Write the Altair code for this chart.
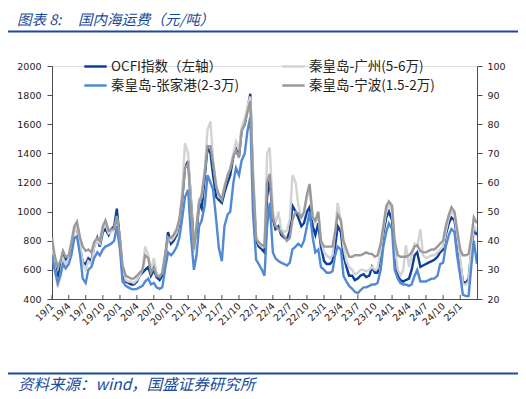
import altair as alt
import pandas as pd

# ---------------- data (semi-monthly readings, 2019-01-01 .. 2025-04-01) ----------------
DATE_START = "2019-01-01"
DATE_END = "2025-04-01"

# OCFI index (left axis)
ocfi = [
    780, 640, 550, 620, 720, 660, 690, 760, 880, 890, 760, 650, 640, 680, 660, 760, 820, 760, 860, 880, 840, 880, 900, 1020,
    800, 560, 520, 510, 500, 500, 520, 560, 580, 600, 620, 560, 600, 550, 530, 560, 700, 860, 780, 800, 840, 920, 1100, 1300,
    1350, 1100, 780, 850, 1060, 1020, 1250, 1440, 1400, 1250, 1100, 1080, 1060, 1130, 1200, 1250, 1380, 1440, 1380, 1560, 1600, 1700, 1810, 1200,
    800, 760, 740, 720, 1100, 1230, 950, 880, 900, 840, 820, 810, 870, 1040, 1000, 960, 900, 920, 1000, 1030, 900, 840, 920, 760,
    660, 640, 640, 660, 760, 900, 860, 700, 620, 560, 560, 530, 540, 560, 570, 550, 560, 620, 580, 580, 700, 850, 960, 1000,
    940, 700, 560, 530, 520, 530, 540, 600, 700, 720, 620, 630, 640, 650, 660, 670, 690, 720, 740, 840, 920, 960, 940, 820,
    650, 520, 510, 540, 720, 880, 840,
]

# Qinhuangdao - Guangzhou (5-6万), right axis
guangzhou = [
    40, 31, 24, 28, 34, 32, 34, 38, 43, 45, 39, 32, 30, 33, 32, 38, 40, 39, 44, 46, 42.5, 43, 44, 48,
    39, 30, 26.5, 26, 26, 25.5, 26.5, 28, 30, 38, 35, 30, 34, 29, 28, 29, 35, 41, 40, 41, 43, 47, 57.5, 73.5,
    70, 55, 36, 45, 54, 55, 65, 78, 81, 67.5, 59, 55, 55, 59, 62.5, 65, 70, 74, 71, 79, 82, 86, 89.5, 65,
    41.5, 39, 38, 38, 70, 72, 50, 46, 50, 44, 43, 43.5, 47.5, 62.5, 60, 52.5, 48, 49, 55, 57.5, 48, 46, 49, 40,
    36, 35, 34, 35, 43, 53, 47, 38, 33, 31, 30, 28.5, 29, 30, 30, 29.5, 30, 31, 30, 30.5, 37, 44, 50, 53,
    50, 38, 30, 28, 30, 38.5, 31, 35, 39, 38, 44, 35, 34, 34.5, 35, 35, 36, 37, 38, 43, 48, 50, 49, 42,
    34, 25, 25, 26, 38, 45, 43,
]

# Qinhuangdao - Zhangjiagang (2-3万), right axis
zhangjiagang = [
    35, 30, 25.5, 28, 32, 30.5, 32, 35, 41, 41.5, 35, 27, 25.5, 30, 31, 34, 36, 35, 37, 38, 38.5, 39, 40, 45,
    37, 26, 24.5, 24, 23.5, 23.3, 23.5, 24, 24.5, 26, 27, 25, 25.5, 24, 23.5, 24, 31, 36, 35, 36, 38, 41, 48, 55,
    57.5, 42.5, 30, 35, 45, 47, 52.5, 62.5, 60, 57.5, 47, 37.5, 33, 45, 49, 50, 60, 65, 62.5, 67.5, 70, 77.5, 82.5, 50,
    33.5, 32, 30, 28, 45, 53, 36, 34, 33, 32.5, 32, 31.5, 32.5, 37, 38, 39, 38, 40, 45, 50, 41, 36, 37, 31,
    30, 29, 29, 29.5, 35, 38, 37, 28, 26, 24.5, 23.5, 22.5, 22, 23, 24, 24, 24.5, 25, 25, 25.5, 30, 38, 43, 46,
    44, 30, 27, 25.5, 25, 25, 24.5, 25, 28, 30, 26, 26, 26, 26.5, 27, 27, 28, 32, 32.5, 38, 42, 44, 43, 35,
    28, 21.5, 21, 21, 31, 40, 32,
]

# Qinhuangdao - Ningbo (1.5-2万), right axis
ningbo = [
    41, 35, 31, 33, 36.5, 34.5, 35, 39.5, 45, 46.5, 41, 38, 36.5, 37, 36, 39.5, 41, 40, 45, 47, 43.5, 44, 44, 48.5,
    41, 31.5, 28, 27.5, 27, 27, 28, 29, 30, 35, 34, 29, 31, 28, 27.5, 29, 36, 41, 41, 42, 44, 47.5, 55, 65,
    66.5, 52.5, 37, 45, 53, 56, 64, 72.5, 72.5, 66.5, 58.5, 56, 54, 58, 62.5, 64.5, 69, 71, 68.5, 77.5, 80, 84, 88, 62.5,
    40.5, 39.5, 38.5, 38, 60, 63, 48, 45, 44, 43, 41.5, 40, 41, 47, 50, 49.5, 48, 50, 56, 59.5, 48, 47, 50, 40,
    38, 38, 38, 38, 43, 49, 47, 40, 37, 34.5, 34.5, 35, 35, 35, 35.5, 36, 35.5, 35.5, 34.5, 35, 39, 45, 52, 53.5,
    52, 40, 35, 34.5, 34.5, 34.5, 35, 36, 38, 38.5, 36.5, 36, 36, 36.5, 37, 37, 38, 39, 40, 45, 49, 51.5, 50, 44,
    37, 35, 35, 35.5, 41, 48, 46,
]

SERIES = ["OCFI指数（左轴）", "秦皇岛-广州(5-6万)", "秦皇岛-张家港(2-3万)", "秦皇岛-宁波(1.5-2万)"]
COLORS = ["#0b3f9c", "#d3d3d3", "#5289d4", "#9a9a9a"]

LEFT_TICKS = [400, 600, 800, 1000, 1200, 1400, 1600, 1800, 2000]
RIGHT_TICKS = [20, 30, 40, 50, 60, 70, 80, 90, 100]

TITLE_A = "图表 8:"
TITLE_B = "国内海运费（元/吨）"
SOURCE = "资料来源：wind，国盛证券研究所"

# ---------------- build tables ----------------
dates = pd.date_range(DATE_START, DATE_END, freq="SMS")
for s in (ocfi, guangzhou, zhangjiagang, ningbo):
    assert len(s) == len(dates), (len(s), len(dates))

def frame(values, name):
    return pd.DataFrame({"date": dates, "value": values, "series": name})

df_ocfi = frame(ocfi, SERIES[0])
df_gz = frame(guangzhou, SERIES[1])
df_zjg = frame(zhangjiagang, SERIES[2])
df_nb = frame(ningbo, SERIES[3])

quarters = pd.date_range("2019-01-01", "2025-01-01", freq="QS")
df_ticks = pd.DataFrame({"date": quarters})
tick_values = [alt.DateTime(year=int(d.year), month=int(d.month), date=1) for d in quarters]

W, H = 425, 233
NUM_FONT = "DejaVu Sans"
CJK = "Noto Sans CJK SC"
AXIS_COLOR = "#4d4d4d"
BLUE = "#1a4b9b"

x_scale = alt.Scale(domain=[alt.DateTime(year=2019, month=1, date=1),
                            alt.DateTime(year=2025, month=4, date=1)])
x_axis = alt.Axis(values=tick_values, format="%y/%-m", labelAngle=315, labelAlign="right",
                  labelBaseline="middle", labelPadding=5, ticks=False, domainColor=AXIS_COLOR,
                  labelFont=NUM_FONT, labelFontSize=9.5, labelColor="#222222", grid=False,
                  title=None, labelOverlap=False, labelFlush=False, labelBound=False)
x_enc = alt.X("date:T", scale=x_scale, axis=x_axis)

color_scale = alt.Scale(domain=SERIES, range=COLORS)
legend = alt.Legend(orient="none", legendX=31, legendY=-12, columns=2, direction="horizontal",
                    symbolType="stroke", symbolSize=500, symbolStrokeWidth=2.5,
                    labelFont=CJK, labelFontSize=13.5, labelColor="#222222", labelOffset=3,
                    columnPadding=38, rowPadding=0, padding=0, title=None, labelLimit=400)

left_y = alt.Y("value:Q", scale=alt.Scale(domain=[400, 2000], nice=False, zero=False),
               axis=alt.Axis(orient="left", values=LEFT_TICKS, format="d", tickSize=5,
                             tickColor=AXIS_COLOR, domainColor=AXIS_COLOR, labelFont=NUM_FONT,
                             labelFontSize=9.5, labelColor="#222222", labelPadding=6,
                             grid=False, title=None))
right_axis = alt.Axis(orient="right", values=RIGHT_TICKS, format="d", tickSize=5,
                      tickColor=AXIS_COLOR, domainColor=AXIS_COLOR, labelFont=NUM_FONT,
                      labelFontSize=9.5, labelColor="#222222", labelPadding=5, grid=False,
                      title=None)
right_scale = alt.Scale(domain=[20, 100], nice=False, zero=False)

def line(df, y):
    return alt.Chart(df).mark_line(strokeWidth=2.4, clip=True).encode(
        x=x_enc, y=y,
        color=alt.Color("series:N", scale=color_scale, legend=legend),
    )

ocfi_layer = line(df_ocfi, left_y)
right_layer = alt.layer(
    line(df_gz, alt.Y("value:Q", scale=right_scale, axis=right_axis)),
    line(df_zjg, alt.Y("value:Q", scale=right_scale, axis=right_axis)),
    line(df_nb, alt.Y("value:Q", scale=right_scale, axis=right_axis)),
)

# inward-pointing quarterly ticks on the date axis
tick_layer = alt.Chart(df_ticks).mark_rule(color=AXIS_COLOR, strokeWidth=1).encode(
    x=x_enc, y=alt.value(H), y2=alt.value(H - 4)
)

one = pd.DataFrame({"k": [0]})
def deco_text(txt, x, y, size, baseline="middle"):
    return alt.Chart(one).mark_text(
        align="left", baseline=baseline, font=CJK, fontSize=size, fontStyle="italic", color=BLUE
    ).encode(x=alt.value(x), y=alt.value(y), text=alt.value(txt))

title_a = deco_text(TITLE_A, -35, -41, 14.5, "alphabetic")
title_b = deco_text(TITLE_B, 26, -41, 14.5, "alphabetic")
top_rule = alt.Chart(one).mark_rule(color=BLUE, strokeWidth=2).encode(
    x=alt.value(-44), x2=alt.value(466), y=alt.value(-34.5))
bottom_rule = alt.Chart(one).mark_rule(color=BLUE, strokeWidth=2).encode(
    x=alt.value(-44), x2=alt.value(466), y=alt.value(307.5))
source_layer = deco_text(SOURCE, -34, 318.5, 15.5)

chart = alt.layer(
    ocfi_layer, right_layer, tick_layer, title_a, title_b, top_rule, bottom_rule, source_layer
).resolve_scale(y="independent").properties(
    width=W, height=H,
    padding={"left": 44, "top": 58, "right": 41, "bottom": 94},
    autosize=alt.AutoSizeParams(type="none"),
).configure_view(stroke=None).configure_axis(labelOverlap=False).configure(background="white")

chart.save("out.html", embed_options={"renderer": "svg", "actions": False})
